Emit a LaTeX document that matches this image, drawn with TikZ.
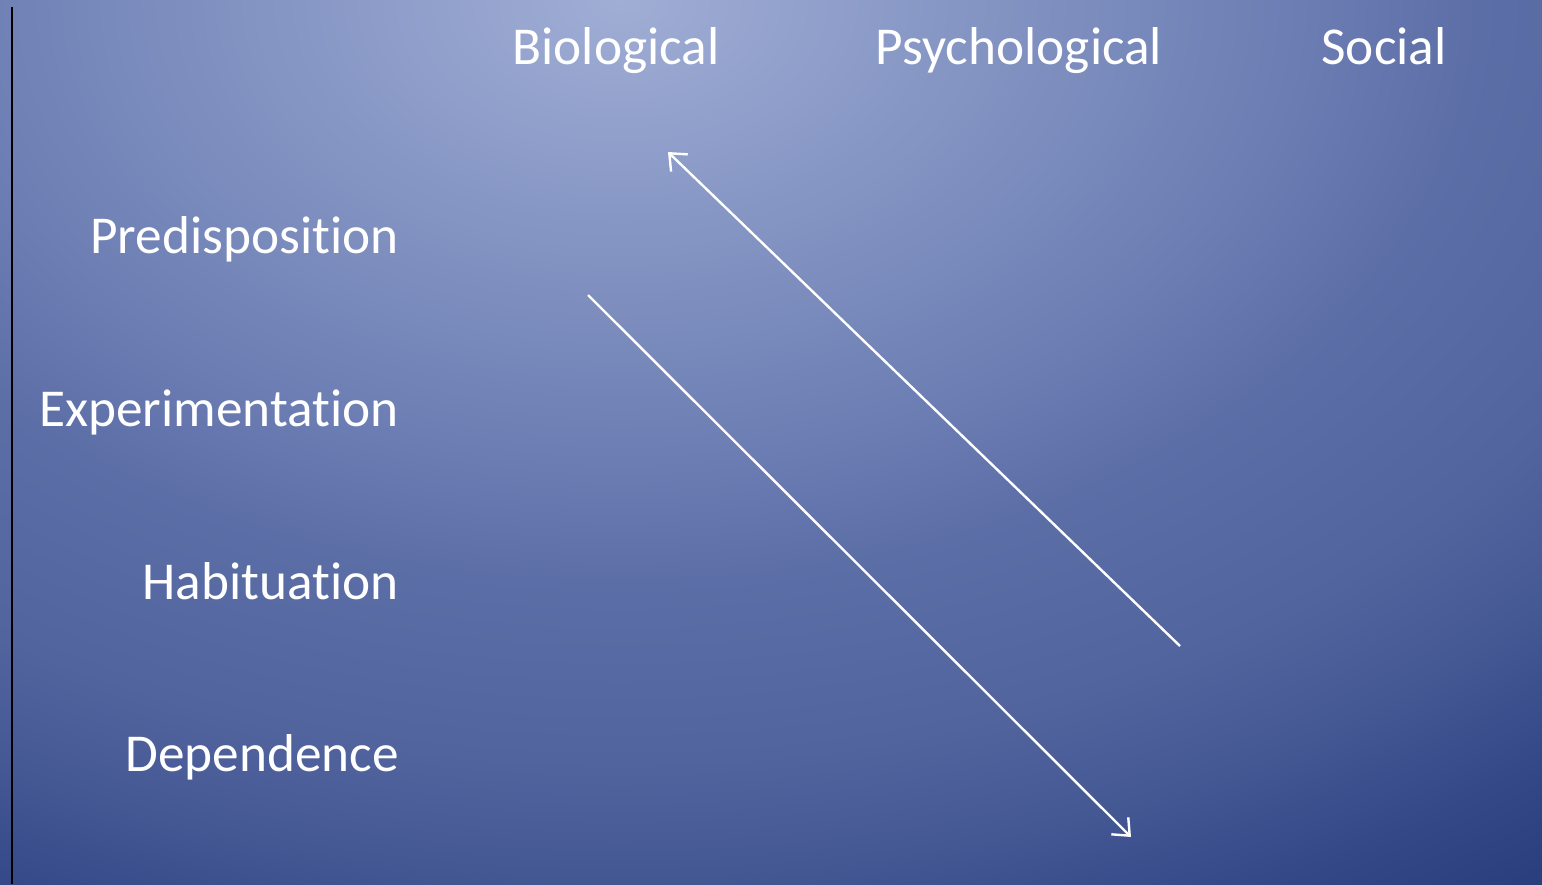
\documentclass[tikz,border=0pt]{standalone}
\usepackage{fontspec}
\setmainfont{Carlito}[RawFeature={-liga;-clig;-dlig}]
\usetikzlibrary{arrows.meta}
\definecolor{bgA}{RGB}{160,174,213}
\definecolor{bgB}{RGB}{106,124,178}
\definecolor{bgC}{RGB}{92,110,166}
\definecolor{bgD}{RGB}{82,100,158}
\definecolor{bgE}{RGB}{68,88,148}
\definecolor{bgF}{RGB}{52,71,135}
\definecolor{bgG}{RGB}{38,58,122}
\pgfdeclareradialshading{bgshade}{\pgfpoint{0bp}{0bp}}{%
  color(0bp)=(bgA); color(10.5bp)=(bgB); color(13bp)=(bgC); color(17bp)=(bgD);
  color(19.5bp)=(bgE); color(22bp)=(bgF); color(25bp)=(bgG); color(50bp)=(bgG)}
\tikzset{
  lbl/.style={text=white, inner sep=0pt, font=\fontsize{53.3}{58}\selectfont},
  rowlbl/.style={lbl, anchor=base east},
  collbl/.style={lbl, anchor=base},
  arr/.style={draw=white, line width=2.4pt, -{Straight Barb[length=14pt,width=24pt,line width=2.4pt]}}
}
\begin{document}
\begin{tikzpicture}[x=1pt,y=-1pt]
\useasboundingbox (0,0) rectangle (1542,884);
\fill[bgG] (0,0) rectangle (1542,884);
\begin{scope}
\clip (0,0) rectangle (1542,884);
\shade[shading=bgshade] (620,0) ellipse [x radius=1650, y radius=1120];
\end{scope}
\draw[black, line width=2.5pt] (12,7) -- (12,884);
\node[collbl] (bio) at (616,64) {Biological};
\node[collbl] (psy) at (1019,64) {Psychological};
\node[collbl] (soc) at (1384,64) {Social};
\node[rowlbl] (pre) at (399,253) {Predisposition};
\node[rowlbl] (exp) at (399,426) {Experimentation};
\node[rowlbl] (hab) at (399,599) {Habituation};
\node[rowlbl] (dep) at (399,771) {Dependence};
\coordinate (a1s) at (1180,646);
\coordinate (a1e) at (668,152);
\coordinate (a2s) at (588,295);
\coordinate (a2e) at (1131,837);
\draw[arr] (a1s) -- (a1e);
\draw[arr] (a2s) -- (a2e);
\end{tikzpicture}
\end{document}
